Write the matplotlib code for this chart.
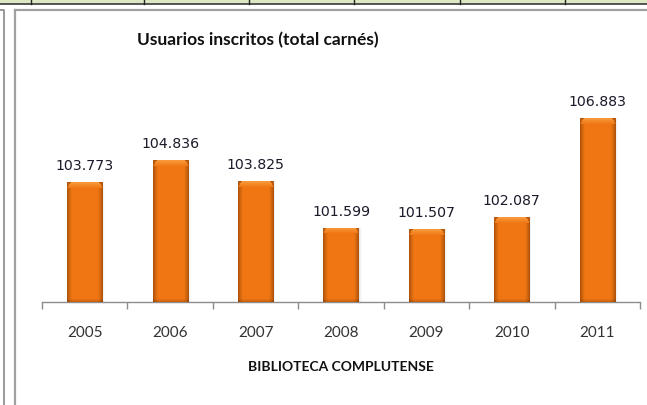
import numpy as np
import matplotlib
matplotlib.use("Agg")
import matplotlib.pyplot as plt
from matplotlib.patches import Rectangle
from matplotlib.lines import Line2D
from matplotlib.colors import to_rgb

years = ["2005", "2006", "2007", "2008", "2009", "2010", "2011"]
usuarios = [103773, 104836, 103825, 101599, 101507, 102087, 106883]
labels = ["103.773", "104.836", "103.825", "101.599", "101.507", "102.087", "106.883"]
title = "Usuarios inscritos (total carnés)"
xlabel = "BIBLIOTECA COMPLUTENSE"

W, H = 647, 406
fig = plt.figure(figsize=(W / 100, H / 100), dpi=100)
fig.patch.set_facecolor("white")

def fx(px):
    return px / W

def fy(py):
    return 1 - py / H

# spreadsheet strip at top
fig.add_artist(Rectangle((0, fy(4.5)), 1, 4.5 / H, transform=fig.transFigure,
                         facecolor="#DDE7C4", edgecolor="none", zorder=0))
fig.add_artist(Line2D([0, 1], [fy(4.5), fy(4.5)], transform=fig.transFigure,
                      color="#3a3a3a", lw=1.2))
for xp in [31, 144, 249, 354, 460, 565]:
    fig.add_artist(Line2D([fx(xp), fx(xp)], [1, fy(4.5)], transform=fig.transFigure,
                          color="#222222", lw=1.0))

# neighbouring frame on the left
fig.add_artist(Line2D([fx(0), fx(3.5), fx(3.5)], [fy(11), fy(11), 0],
                      transform=fig.transFigure, color="#9a9a9a", lw=1.4))
# chart frame
fig.add_artist(Line2D([fx(15.5), fx(15.5)], [0, fy(10.5)], transform=fig.transFigure,
                      color="#a0a0a0", lw=1.6))
fig.add_artist(Line2D([fx(15.5), 1], [fy(10.5), fy(10.5)], transform=fig.transFigure,
                      color="#a0a0a0", lw=1.6))

ymin, ymax = 98000, 108000
ax = fig.add_axes([fx(42), fy(303), fx(640) - fx(42), (303 - 96) / H])
ax.set_xlim(0, len(years))
ax.set_ylim(ymin, ymax)
ax.patch.set_alpha(0)
for s in ["top", "right", "left"]:
    ax.spines[s].set_visible(False)
ax.spines["bottom"].set_color("#8c8c8c")
ax.spines["bottom"].set_linewidth(1.0)
ax.set_yticks([])
ax.set_xticks(np.arange(0, len(years) + 1))
ax.set_xticklabels([])
ax.tick_params(axis="x", direction="out", length=5, color="#8c8c8c", width=1.0)

xs = np.arange(len(years)) + 0.5
bw = 0.41
bars = ax.bar(xs, [v - ymin for v in usuarios], bottom=ymin, width=bw,
              color="#EE7512", edgecolor="none", zorder=2)

ppu_y = (303 - 96) / (ymax - ymin)
edge = np.array(to_rgb("#B0540B"))
mid = np.array(to_rgb("#EF7612"))
light = np.array(to_rgb("#F89A3A"))

for b, v, lab in zip(bars, usuarios, labels):
    x0 = b.get_x()
    w = b.get_width()
    hpx = int(round((v - ymin) * ppu_y))
    wpx = 36
    img = np.zeros((hpx, wpx, 3))
    u = np.abs(np.linspace(-1, 1, wpx))
    prof = np.clip((u - 0.72) / 0.28, 0, 1) ** 1.4
    row = mid[None, :] * (1 - prof[:, None]) + edge[None, :] * prof[:, None]
    img[:] = row[None, :, :]
    bev = 6
    for r in range(min(bev, hpx)):
        t = r / bev
        c = light * (1 - t) + mid * t
        inset = int(round((bev - r) * 0.6))
        img[r, inset:wpx - inset] = c
        img[r, :inset] = edge * 0.9 + light * 0.1
        img[r, wpx - inset:] = edge * 0.9 + light * 0.1
    for r in range(min(3, hpx)):
        img[hpx - 1 - r] = img[hpx - 1 - r] * (0.85 + 0.05 * r)
    im = ax.imshow(img, extent=[x0, x0 + w, ymin, v], aspect="auto",
                   interpolation="bilinear", zorder=3)
    im.set_clip_path(b)
    for k, a in enumerate([0.10, 0.06, 0.03]):
        ax.add_patch(Rectangle((x0 + w, ymin), (k + 1) * 0.012, v - ymin,
                               facecolor="#808080", alpha=a, edgecolor="none", zorder=1))
    ax.annotate(lab, (x0 + w / 2, v), xytext=(0, 10), textcoords="offset pixels",
                ha="center", va="bottom", fontsize=10.2, family="DejaVu Sans",
                color="#1a1a2a")

ax.set_aspect("auto")
ax.set_xlim(0, len(years))
ax.set_ylim(ymin, ymax)

for x, yr in zip(xs, years):
    ax.text(x, -0.145, yr, transform=ax.get_xaxis_transform(), ha="center", va="center",
            fontsize=11, family="Lato", color="#333333")

fig.text(fx(341), fy(367), xlabel, ha="center", va="center", fontsize=10,
         family="Lato", fontweight="bold", color="#111111")
fig.text(fx(258), fy(40), title, ha="center", va="center", fontsize=12.5,
         family="Lato", fontweight="bold", color="#111111")

fig.savefig("out.png", dpi=100, facecolor="white")
